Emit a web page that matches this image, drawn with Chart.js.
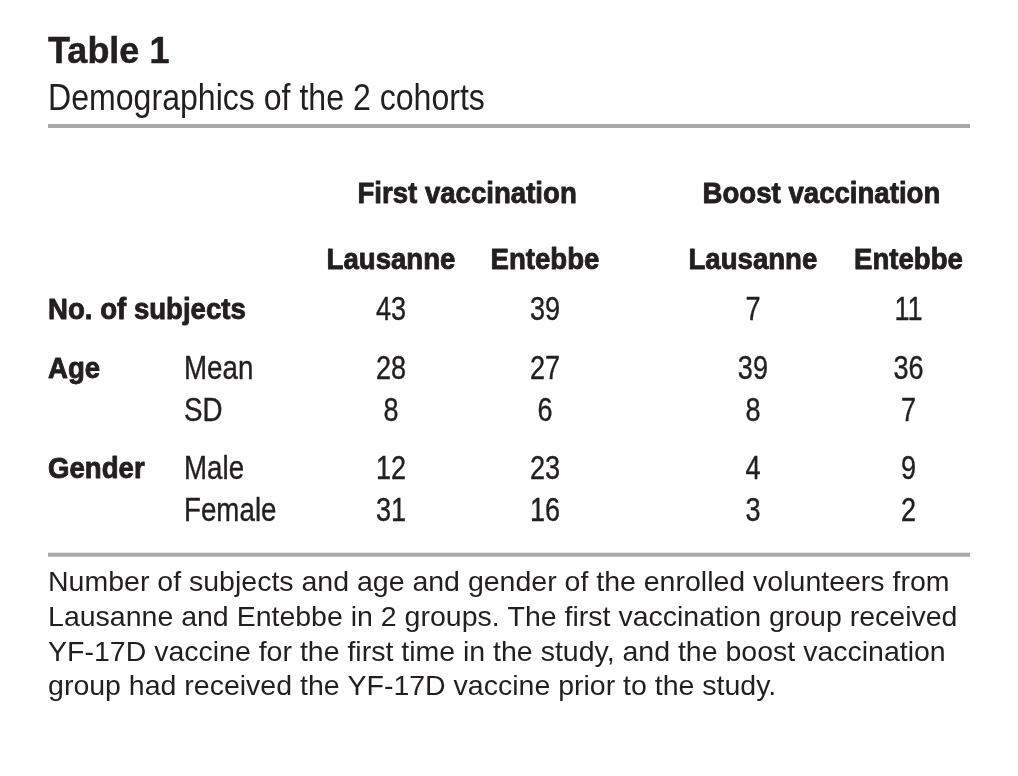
<!DOCTYPE html>
<html>
<head>
<meta charset="utf-8">
<title>Table 1</title>
<script src="https://cdn.jsdelivr.net/npm/chart.js@4.4.0/dist/chart.umd.min.js"></script>
<style>
    html, body { margin: 0; padding: 0; background: #fff; }
    #wrap { width: 1018px; height: 776px; }
</style>
</head>
<body>
<div id="wrap"><canvas id="tableChart" width="1018" height="776"></canvas></div>
<script>
// table content
const tableTitle = 'Table 1';
const tableSubtitle = 'Demographics of the 2 cohorts';
const groups = ['First vaccination', 'Boost vaccination'];
const sites = ['Lausanne', 'Entebbe', 'Lausanne', 'Entebbe'];
const rowGroups = ['No. of subjects', 'Age', '', 'Gender', ''];
const rowLabels = ['', 'Mean', 'SD', 'Male', 'Female'];
const firstLausanne = [43, 28, 8, 12, 31];
const firstEntebbe = [39, 27, 6, 23, 16];
const boostLausanne = [7, 39, 8, 4, 3];
const boostEntebbe = [11, 36, 7, 9, 2];
const captionLines = [
    'Number of subjects and age and gender of the enrolled volunteers from',
    'Lausanne and Entebbe in 2 groups. The first vaccination group received',
    'YF-17D vaccine for the first time in the study, and the boost vaccination',
    'group had received the YF-17D vaccine prior to the study.'
];

// layout, in scale units (x: one column step, y: one row step)
const colX = [0, 1, 2.35, 3.36];
const groupX = [0.494, 2.795];
const labelX = -2.227;
const subLabelX = -1.344;
const ruleRightX = 3.76;
const rowY = [0, 1.4, 2.4, 3.8, 4.8];
const groupY = -2.75;
const siteY = -1.19;
const titleY = -6.136;
const subtitleY = -5.03;
const topRuleY = -4.333;
const bottomRuleY = 5.874;
const captionY = 6.5;
const captionStep = 0.826;

const ink = '#231f20';
const ruleColor = '#a7a9ac';
const family = '"Liberation Sans", Arial, Helvetica, sans-serif';

// squeeze = horizontal scale, weight = extra stroke to thicken condensed faces
function drawText(ctx, text, x, yMid, size, bold, align, squeeze, weight) {
    ctx.save();
    ctx.font = (bold ? 'bold ' : '') + size + 'px ' + family;
    ctx.fillStyle = ink;
    ctx.strokeStyle = ink;
    ctx.textBaseline = 'alphabetic';
    let w = ctx.measureText(text).width * squeeze;
    let left = x;
    if (align === 'center') left = x - w / 2;
    ctx.translate(left, yMid + size * 0.716 / 2);
    ctx.scale(squeeze, 1);
    ctx.textAlign = 'left';
    ctx.fillText(text, 0, 0);
    if (weight) {
        ctx.lineWidth = weight;
        ctx.lineJoin = 'round';
        ctx.strokeText(text, 0, 0);
    }
    ctx.restore();
}

const tablePlugin = {
    id: 'tableText',
    beforeDraw(chart) {
        const ctx = chart.ctx;
        ctx.save();
        ctx.fillStyle = '#fff';
        ctx.fillRect(0, 0, chart.width, chart.height);
        ctx.restore();
    },
    afterDraw(chart) {
        const ctx = chart.ctx;
        const xs = chart.scales.x;
        const ys = chart.scales.y;
        const px = v => xs.getPixelForValue(v);
        const py = v => ys.getPixelForValue(v);

        drawText(ctx, tableTitle, px(labelX), py(titleY), 36, true, 'left', 1, 0.5);
        drawText(ctx, tableSubtitle, px(labelX), py(subtitleY), 37, false, 'left', 0.867, 0);

        // rules
        ctx.fillStyle = ruleColor;
        [topRuleY, bottomRuleY].forEach(r => {
            ctx.fillRect(px(labelX), py(r) - 2, px(ruleRightX) - px(labelX), 4);
        });

        groups.forEach((g, i) => drawText(ctx, g, px(groupX[i]), py(groupY), 30, true, 'center', 0.92, 0.9));
        sites.forEach((s, i) => drawText(ctx, s, px(colX[i]), py(siteY), 30, true, 'center', 0.92, 0.9));

        rowGroups.forEach((g, i) => {
            if (g) drawText(ctx, g, px(labelX), py(rowY[i]), 30, true, 'left', 0.92, 0.9);
        });
        rowLabels.forEach((l, i) => {
            if (l) drawText(ctx, l, px(subLabelX), py(rowY[i]), 33, false, 'left', 0.84, 0.4);
        });

        // cell values, placed at each point element
        chart.data.datasets.forEach((ds, d) => {
            const meta = chart.getDatasetMeta(d);
            meta.data.forEach((el, i) => {
                drawText(ctx, String(ds.values[i]), el.x, el.y, 33, false, 'center', 0.82, 0.4);
            });
        });

        captionLines.forEach((line, i) => {
            drawText(ctx, line, px(labelX), py(captionY + i * captionStep), 28.5, false, 'left', 1.0, 0);
        });
    }
};

const columns = [firstLausanne, firstEntebbe, boostLausanne, boostEntebbe];

const tableChart = new Chart(document.getElementById('tableChart'), {
    type: 'scatter',
    data: {
        datasets: columns.map((vals, c) => ({
            label: sites[c],
            values: vals,
            data: vals.map((v, r) => ({ x: colX[c], y: rowY[r] })),
            pointRadius: 0,
            pointHoverRadius: 0,
            showLine: false
        }))
    },
    options: {
        responsive: false,
        animation: false,
        devicePixelRatio: 1,
        layout: { padding: 0 },
        events: [],
        plugins: {
            legend: { display: false },
            tooltip: { enabled: false },
            title: { display: false }
        },
        scales: {
            x: { type: 'linear', display: false, min: -391 / 154, max: (1018 - 391) / 154 },
            y: { type: 'linear', display: false, reverse: true, min: -308 / 42, max: (776 - 308) / 42 }
        }
    },
    plugins: [tablePlugin]
});
</script>
</body>
</html>
